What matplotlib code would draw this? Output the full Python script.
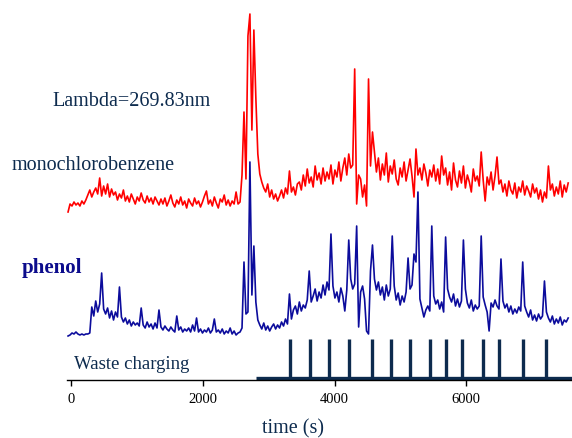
import numpy as np
import matplotlib
matplotlib.use("Agg")
import matplotlib.pyplot as plt

# absorbance traces (arbitrary units), sampled every 30 s starting at -45 s
red = [168, 176, 174, 178, 175, 177, 174, 179, 176, 180,
       185, 190, 183, 188, 192, 186, 202,
       184, 194, 186, 196, 183, 191, 185,
       188, 180, 186, 182, 190, 179, 184, 178, 186, 181, 176, 183, 179, 187, 180, 177, 184, 178, 182, 176, 183, 179, 175, 181,
       176, 182, 174, 179, 185, 177, 173, 180, 176, 183,
       175, 179, 172, 181, 177, 174, 182, 176, 179, 173,
       178, 184, 189, 176, 180, 174, 183, 177, 172, 181,
       178, 185, 175, 180, 174, 179, 176, 188, 176, 178,
       205, 268, 201, 344, 366, 250, 350, 282, 226, 206, 198, 192,
       188, 196, 183, 190, 181, 186, 179,
       184, 190, 182, 192, 186, 209, 188, 193, 185, 196,
       198, 190, 205, 194, 211, 197, 203, 193, 214, 200, 207, 196, 212, 199, 208,
       201, 215, 196, 210, 203, 218, 199, 212, 222, 205, 226, 212,
       215, 311, 176, 205, 201, 183, 195, 174, 301, 214, 248, 228, 208,
       222, 200, 216, 205, 227, 198, 214, 206, 220, 201, 195, 212, 203,
       218, 199, 210, 221, 204, 183, 231, 205, 212, 200, 216, 207, 194, 210,
       203, 215, 199, 211, 196, 224, 205,
       212, 195, 208, 190, 217, 200, 193, 209, 197, 214, 192, 205, 198, 188, 211, 199, 204, 194,
       228, 200, 179, 203, 195, 208, 190, 204, 223, 196,
       200, 188, 196, 184, 199, 190, 186, 197, 182, 193,
       188, 199, 185, 194, 189, 183, 196, 187, 192, 181, 190, 178,
       188, 182, 214, 190, 196, 184, 193, 186, 199, 183, 195, 188, 197]

blue = [44, 45, 47, 46, 48, 46, 45, 46, 45, 46, 46, 47,
        73, 64, 79, 68, 76, 107, 71, 66, 72, 62, 69, 60, 68, 63, 93, 63, 58, 62, 56, 60, 54, 58, 55, 57, 54,
        72, 55, 52, 58, 53, 56, 51, 57, 52, 70, 53, 50, 54, 51, 49, 53, 50, 48, 64, 50, 53, 48, 51, 49, 52, 48, 55, 49,
        62, 48, 51, 47, 50, 48, 52, 47, 50, 61, 48, 50, 47, 51, 46, 49, 47, 52, 46, 49, 45, 47, 48,
        52, 118, 66, 68, 218, 85, 134, 78, 60, 55, 51, 57, 50, 54, 49, 53, 56, 51, 55, 52, 58, 54, 61, 56,
        86, 61, 70, 74, 66, 78, 69, 75, 72, 80, 109, 78, 84, 91, 79, 88, 82, 95, 85, 98, 90, 146,
        94, 82, 88, 78, 92, 84, 69, 90, 140, 101, 91, 96, 154, 53, 88, 94, 81, 49, 46, 109, 135, 101, 90,
        98, 85, 93, 80, 95, 84, 91, 144, 94, 80, 87, 75, 84, 78, 88, 122, 91, 95, 126, 118, 188, 81, 72, 63, 70, 74, 69,
        154, 84, 76, 80, 71, 78, 68, 143, 91, 83, 78, 86, 74, 81, 73, 79, 140, 91, 77, 72, 80, 69, 75, 71, 74,
        144, 83, 75, 68, 49, 77, 73, 80, 74, 71, 121, 79, 72, 76, 68, 74, 66, 71, 67, 73, 69,
        118, 74, 68, 63, 70, 60, 65, 59, 66, 61, 64, 99, 68, 62, 58, 64, 56, 61, 57, 63, 55, 60, 58, 62]

t_red = -45 + 30 * np.arange(len(red))
t_blue = -45 + 30 * np.arange(len(blue))

# waste charging events (s)
charging = [3320, 3620, 3910, 4220, 4570, 4850, 5140, 5450, 5690, 5940, 6250, 6500, 6860, 7210]
charging_start = 2810
xticks = [0, 2000, 4000, 6000]

navy = "#0d2b4e"
W, H = 572, 439
fig = plt.figure(figsize=(W / 100, H / 100), dpi=100)
ax = fig.add_axes([67 / W, (H - 381) / H, 1 - 67 / W, 381 / H])
ax.set_xlim(-61, 7603)
ax.set_ylim(0, 381)

ax.plot(t_red, red, color="#ff0000", lw=1.2)
ax.plot(t_blue, blue, color="#0c0c9c", lw=1.2)

ax.hlines(2, charging_start, 7603, color=navy, lw=2.4)
ax.vlines(charging, 2, 41, color=navy, lw=2.4)

for s in ["top", "right", "left"]:
    ax.spines[s].set_visible(False)
ax.spines["bottom"].set_linewidth(1.0)
ax.set_yticks([])
ax.set_xticks(xticks)
ax.set_xticklabels([str(v) for v in xticks], family="Liberation Serif", fontsize=10.5)
ax.tick_params(axis="x", length=4, width=1, pad=5)

def ftext(x, y, s, **kw):
    fig.text(x / W, 1 - y / H, s, va="center", family="Liberation Serif", **kw)

ftext(52, 101, "Lambda=269.83nm", fontsize=14.5, color=navy)
ftext(12, 166, "monochlorobenzene", fontsize=14.5, color=navy)
ftext(22, 268, "phenol", fontsize=15, color="#0c0c8c", weight="bold")
ftext(74, 365, "Waste charging", fontsize=13.5, color=navy)
ftext(293, 429, "time (s)", fontsize=14.5, color=navy, ha="center")

fig.savefig("out.png", dpi=100)
